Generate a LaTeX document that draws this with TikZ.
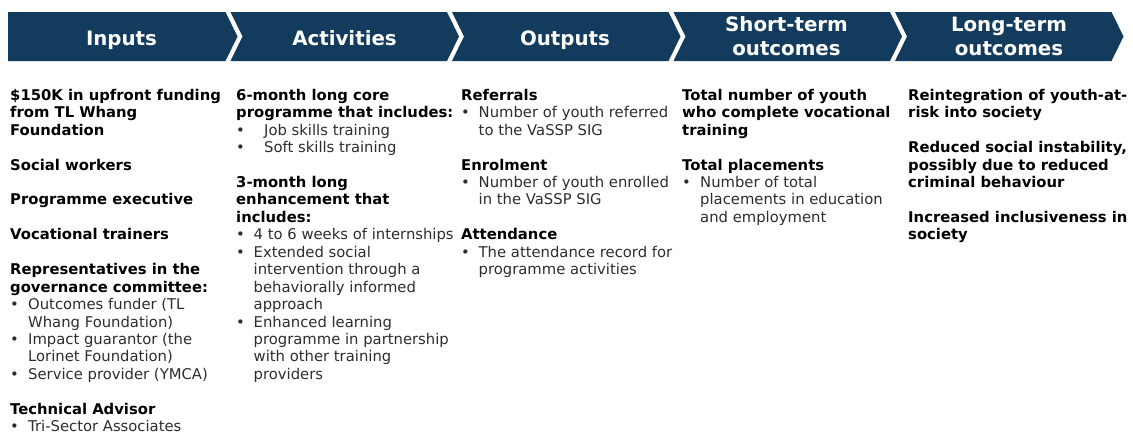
\documentclass[tikz,border=0pt]{standalone}
\usepackage{fontspec}
\setmainfont{DejaVu Sans}
\definecolor{navy}{RGB}{18,59,93}
\definecolor{bodygrey}{RGB}{45,45,45}

% bullet and hanging indent for list lines
\newcommand\bl[1][17.5pt]{\makebox[#1][l]{•}}
\newcommand\ind[1][17.5pt]{\hspace*{#1}}
\newcommand\st{\rule{0pt}{12pt}}
\newcommand\hd[1]{\textcolor{black}{\textbf{#1}}}
\def\gap{17.45pt}

\begin{document}
\begin{tikzpicture}[x=1pt,y=-1pt,
    head/.style={text=white,inner sep=0pt,align=center,
      font=\fontsize{19.8}{24}\selectfont\bfseries},
    col/.style={anchor=north west,inner sep=0pt,align=left,text=bodygrey,
      font=\fontsize{14.8}{17.45}\selectfont}
]
\useasboundingbox (0,0) rectangle (1133,432);

%------------------------ chevron band ------------------------
\def\yt{12}      % top edge
\def\yb{61}      % bottom edge
\def\ym{36.5}    % tip height
\def\pd{221.5}   % period
\def\bw{216.5}   % body width
\def\tp{12}      % tip depth

% first arrow has a flat back
\fill[navy] (8,\yt) -- (225.5,\yt) -- (237.5,\ym) -- (225.5,\yb) -- (8,\yb) -- cycle;
\foreach \i in {1,...,4}{
  \pgfmathsetmacro{\xl}{9+\i*\pd}
  \fill[navy] (\xl,\yt) -- ({\xl+\bw},\yt) -- ({\xl+\bw+\tp},\ym)
    -- ({\xl+\bw},\yb) -- (\xl,\yb) -- ({\xl+\tp},\ym) -- cycle;
}

% headings
\node[head,anchor=base] (inputs) at (121.5,45) {Inputs};
\node[head,anchor=base] (activities) at (344.5,45) {Activities};
\node[head,anchor=base] (outputs) at (565,45) {Outputs};
\node[head] (shortterm) at (786.5,36) {Short-term\\outcomes};
\node[head] (longterm) at (1009,36) {Long-term\\outcomes};

%------------------------ columns ------------------------
\node[col] (colinputs) at (10,88) {%
  \st\hd{\$150K in upfront funding}\\
  \hd{from TL Whang}\\
  \hd{Foundation}\\[\gap]
  \hd{Social workers}\\[\gap]
  \hd{Programme executive}\\[\gap]
  \hd{Vocational trainers}\\[\gap]
  \hd{Representatives in the}\\
  \hd{governance committee:}\\
  \bl[18pt]Outcomes funder (TL\\
  \ind[18pt]Whang Foundation)\\
  \bl[18pt]Impact guarantor (the\\
  \ind[18pt]Lorinet Foundation)\\
  \bl[18pt]Service provider (YMCA)\\[\gap]
  \hd{Technical Advisor}\\
  \bl[18pt]Tri-Sector Associates};

\node[col] (colactivities) at (236,88) {%
  \st\hd{6-month long core}\\
  \hd{programme that includes:}\\
  \bl[28pt]Job skills training\\
  \bl[28pt]Soft skills training\\[\gap]
  \hd{3-month long}\\
  \hd{enhancement that}\\
  \hd{includes:}\\
  \bl 4 to 6 weeks of internships\\
  \bl Extended social\\
  \ind intervention through a\\
  \ind behaviorally informed\\
  \ind approach\\
  \bl Enhanced learning\\
  \ind programme in partnership\\
  \ind with other training\\
  \ind providers};

\node[col] (coloutputs) at (461,88) {%
  \st\hd{Referrals}\\
  \bl Number of youth referred\\
  \ind to the VaSSP SIG\\[\gap]
  \hd{Enrolment}\\
  \bl Number of youth enrolled\\
  \ind in the VaSSP SIG\\[\gap]
  \hd{Attendance}\\
  \bl The attendance record for\\
  \ind programme activities};

\node[col] (colshort) at (682,88) {%
  \st\hd{Total number of youth}\\
  \hd{who complete vocational}\\
  \hd{training}\\[\gap]
  \hd{Total placements}\\
  \bl[18pt]Number of total\\
  \ind[18pt]placements in education\\
  \ind[18pt]and employment};

\node[col] (collong) at (908,88) {%
  \st\hd{Reintegration of youth-at-}\\
  \hd{risk into society}\\[\gap]
  \hd{Reduced social instability,}\\
  \hd{possibly due to reduced}\\
  \hd{criminal behaviour}\\[\gap]
  \hd{Increased inclusiveness in}\\
  \hd{society}};

\end{tikzpicture}
\end{document}
